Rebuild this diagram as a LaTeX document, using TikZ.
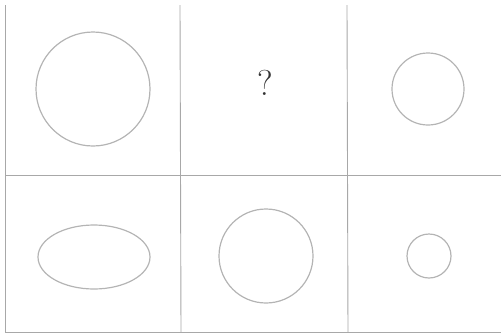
\documentclass[tikz,border=0pt]{standalone}
\usepackage{tikz}
\definecolor{rule}{HTML}{A8A8A8}
\definecolor{shape}{HTML}{B4B4B4}
\definecolor{mark}{HTML}{333333}

\begin{document}
\begin{tikzpicture}[x=1pt,y=-1pt,
  gridline/.style={draw=rule,line width=0.9pt},
  figure/.style={draw=shape,line width=1.2pt}]
\useasboundingbox (0,0) rectangle (501,333);
% grid
\draw[gridline] (5,5) -- (5,332);
\draw[gridline] (180,5) -- (181,332);
\draw[gridline] (347,5) -- (348,332);
\draw[gridline] (5,175) -- (501,175);
\draw[gridline] (5,332) -- (501,332);
% top row
\draw[figure] (93,89) circle (57);
\node[text=mark,font=\fontsize{36}{40}\selectfont] (ask) at (265,83) {?};
\draw[figure] (428,89) circle (36);
% bottom row
\draw[figure] (94,257) ellipse (56 and 32);
\draw[figure] (266,256) circle (47);
\draw[figure] (429,256) circle (22);
\end{tikzpicture}
\end{document}
